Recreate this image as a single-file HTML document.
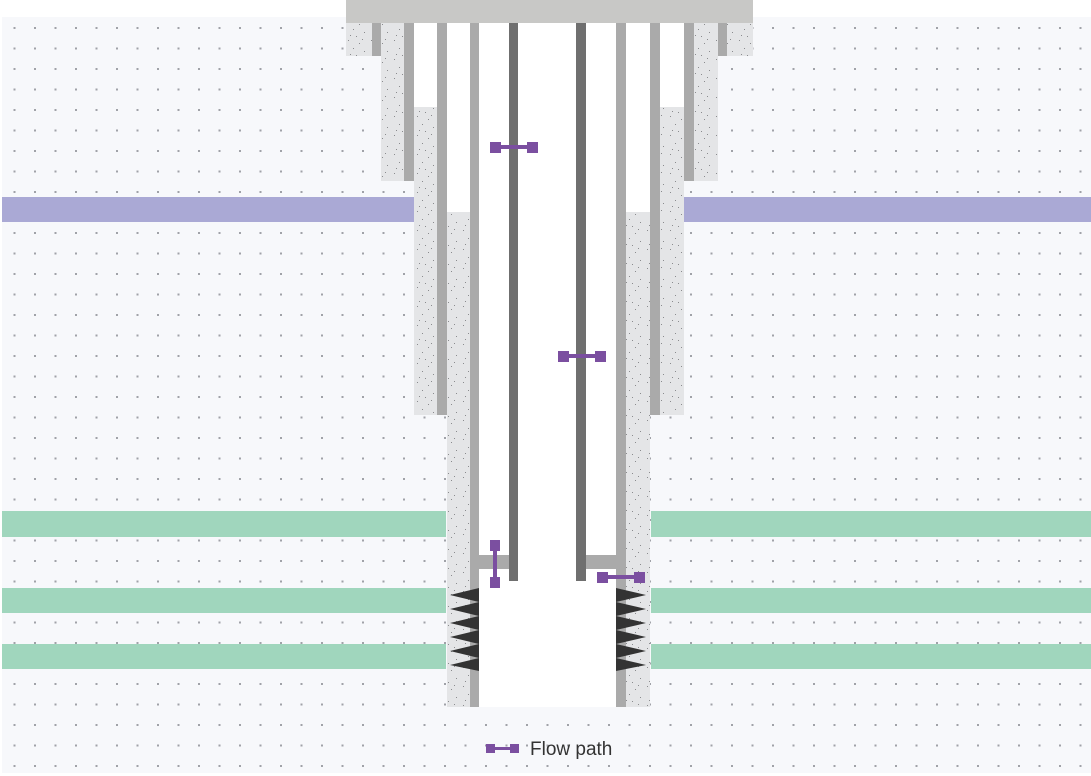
<!DOCTYPE html>
<html><head><meta charset="utf-8"><style>
html,body{margin:0;padding:0;background:#fff;}
svg{display:block;}
</style></head><body>
<svg width="1091" height="776" viewBox="0 0 1091 776" xmlns="http://www.w3.org/2000/svg">
<defs>
<pattern id="dots" x="13.5" y="27" width="20.5" height="20.5" patternUnits="userSpaceOnUse">
<rect x="0" y="0" width="2" height="2" fill="#a0a2a8"/>
</pattern>
<pattern id="stip" width="23" height="19" patternUnits="userSpaceOnUse">
<rect width="23" height="19" fill="#e4e5e7"/>
<rect x="3" y="2" width="1" height="1" fill="#8a8b8e"/>
<rect x="14" y="5" width="1" height="1" fill="#8a8b8e"/>
<rect x="8" y="10" width="1" height="1" fill="#8a8b8e"/>
<rect x="19" y="13" width="1" height="1" fill="#8a8b8e"/>
<rect x="5" y="16" width="1" height="1" fill="#8a8b8e"/>
<rect x="17" y="1" width="1" height="1" fill="#8a8b8e"/>
<rect x="11" y="17" width="1" height="1" fill="#8a8b8e"/>
</pattern>
</defs>
<rect x="2" y="17" width="1089" height="756" fill="#f7f8fb"/>
<rect x="2" y="17" width="1089" height="756" fill="url(#dots)"/>
<rect x="2" y="197" width="412" height="25" fill="#aaa9d5"/>
<rect x="684" y="197" width="407" height="25" fill="#aaa9d5"/>
<g fill="#a0d6bd">
<rect x="2" y="511" width="444" height="26"/><rect x="651" y="511" width="440" height="26"/>
<rect x="2" y="588" width="444" height="25"/><rect x="651" y="588" width="440" height="25"/>
<rect x="2" y="644" width="444" height="25"/><rect x="651" y="644" width="440" height="25"/>
</g>
<rect x="404" y="23" width="290" height="158" fill="#fff"/>
<rect x="437" y="23" width="223" height="392" fill="#fff"/>
<rect x="470" y="23" width="156" height="684" fill="#fff"/>
<g fill="url(#stip)">
<rect x="346" y="23" width="26" height="33"/>
<rect x="727" y="23" width="26" height="33"/>
<rect x="381" y="23" width="23" height="158"/>
<rect x="694" y="23" width="24" height="158"/>
<rect x="414" y="107" width="23" height="308"/>
<rect x="660" y="107" width="24" height="308"/>
<rect x="447" y="212" width="23" height="495"/>
<rect x="626" y="212" width="24" height="495"/>
</g>
<g fill="#aaaaaa">
<rect x="372" y="23" width="9" height="33"/>
<rect x="718" y="23" width="9" height="33"/>
<rect x="404" y="23" width="10" height="158"/>
<rect x="684" y="23" width="10" height="158"/>
<rect x="437" y="23" width="10" height="392"/>
<rect x="650" y="23" width="10" height="392"/>
<rect x="470" y="23" width="9" height="684"/>
<rect x="616" y="23" width="10" height="684"/>
<rect x="479" y="555" width="30" height="14"/>
<rect x="586" y="555" width="30" height="14"/>
</g>
<rect x="509" y="23" width="9" height="558" fill="#6f6f6f"/>
<rect x="576" y="23" width="10" height="558" fill="#6f6f6f"/>
<rect x="346" y="0" width="407" height="23" fill="#c8c8c6"/>
<g fill="#333">
<polygon points="450,595 479,588 479,602"/><polygon points="450,609 479,602 479,616"/>
<polygon points="450,623 479,616 479,630"/><polygon points="450,637 479,630 479,644"/>
<polygon points="450,651 479,644 479,658"/><polygon points="450,665 479,658 479,671"/>
<polygon points="646,595 616,588 616,602"/><polygon points="646,609 616,602 616,616"/>
<polygon points="646,623 616,616 616,630"/><polygon points="646,637 616,630 616,644"/>
<polygon points="646,651 616,644 616,658"/><polygon points="646,665 616,658 616,671"/>
</g>
<g fill="#7b4fa0">
<rect x="490" y="142" width="11" height="11"/><rect x="527" y="142" width="11" height="11"/><rect x="498" y="145" width="32" height="4"/>
<rect x="558" y="351" width="11" height="11"/><rect x="595" y="351" width="11" height="11"/><rect x="566" y="354" width="32" height="4"/>
<rect x="490" y="540" width="10" height="11"/><rect x="490" y="577" width="10" height="11"/><rect x="493" y="548" width="4" height="31"/>
<rect x="597" y="572" width="11" height="11"/><rect x="634" y="572" width="11" height="11"/><rect x="605" y="575" width="32" height="4"/>
<rect x="486" y="744" width="9" height="9"/><rect x="510" y="744" width="9" height="9"/><rect x="493" y="747" width="19" height="3"/>
</g>
<text x="530" y="755" font-family="Liberation Sans Narrow, Liberation Sans, sans-serif" font-size="19" fill="#333">Flow path</text>
</svg>
</body></html>
